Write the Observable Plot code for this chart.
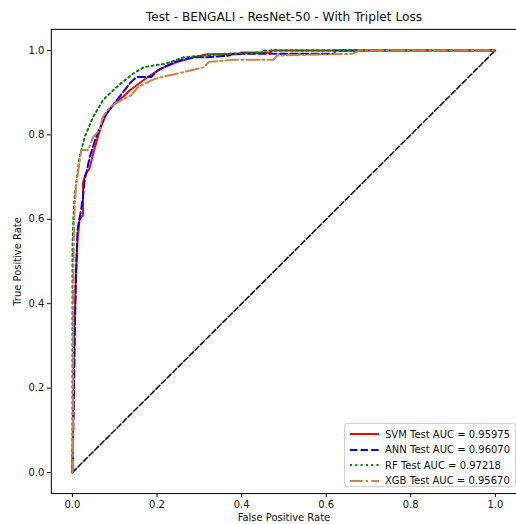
<!DOCTYPE html>
<html><head><meta charset="utf-8">
<script src="https://cdn.jsdelivr.net/npm/d3@7"></script>
<script src="https://cdn.jsdelivr.net/npm/@observablehq/plot@0.6"></script>
<style>
body{margin:0;overflow:hidden;background:#fff;font-family:"DejaVu Sans",sans-serif;}
#wrap{position:relative;width:516px;height:524px;overflow:hidden;background:#fff;}
#title{position:absolute;left:0;width:568px;top:10px;text-align:center;font-size:12.2px;color:#111;}
#legend{position:absolute;left:344px;top:423px;width:172px;height:64px;box-sizing:border-box;border:1px solid #d0d0d0;border-radius:3px;background:rgba(255,255,255,0.85);font-size:10px;color:#111;}
.row{position:absolute;left:4px;height:14px;display:flex;align-items:center;}
.row svg{width:31px;height:10px;margin-right:5px;}
</style></head>
<body><div id="wrap"><div id="chart"></div><div id="title"></div><div id="legend"></div></div>
<script>
const titleText = "Test - BENGALI - ResNet-50 - With Triplet Loss";
const xLabel = "False Positive Rate";
const yLabel = "True Positive Rate";
const tickValues = [0, 0.2, 0.4, 0.6, 0.8, 1.0];

const svmFpr = [0, 0.002, 0.005, 0.008, 0.012, 0.017, 0.025, 0.025, 0.03, 0.04, 0.05, 0.056, 0.06, 0.068, 0.08, 0.088, 0.1, 0.119, 0.135, 0.155, 0.178, 0.209, 0.249, 0.287, 0.319, 0.398, 0.398, 0.47, 0.47, 1];
const svmTpr = [0, 0.2, 0.35, 0.46, 0.55, 0.6, 0.61, 0.686, 0.705, 0.72, 0.76, 0.78, 0.795, 0.82, 0.85, 0.86, 0.875, 0.89, 0.905, 0.92, 0.937, 0.957, 0.973, 0.984, 0.991, 0.991, 0.995, 0.995, 1, 1];

const annFpr = [0, 0.003, 0.006, 0.008, 0.012, 0.02, 0.025, 0.029, 0.041, 0.056, 0.076, 0.092, 0.111, 0.135, 0.151, 0.186, 0.202, 0.241, 0.288, 0.32, 0.37, 0.38, 0.62, 0.62, 1];
const annTpr = [0, 0.15, 0.35, 0.46, 0.575, 0.62, 0.654, 0.693, 0.748, 0.795, 0.843, 0.866, 0.89, 0.921, 0.937, 0.937, 0.953, 0.973, 0.984, 0.984, 0.988, 0.992, 0.992, 1, 1];

const rfFpr = [0, 0, 0.002, 0.005, 0.009, 0.017, 0.029, 0.049, 0.072, 0.104, 0.143, 0.17, 0.217, 0.264, 0.358, 0.45, 0.45, 1];
const rfTpr = [0, 0.53, 0.6, 0.65, 0.686, 0.748, 0.795, 0.843, 0.882, 0.913, 0.945, 0.961, 0.968, 0.984, 0.992, 0.995, 1, 1];

const xgbFpr = [0, 0.001, 0.002, 0.004, 0.006, 0.009, 0.013, 0.021, 0.037, 0.049, 0.064, 0.072, 0.088, 0.115, 0.139, 0.155, 0.186, 0.202, 0.264, 0.31, 0.323, 0.38, 0.475, 0.484, 0.66, 0.68, 1];
const xgbTpr = [0, 0.05, 0.45, 0.6, 0.64, 0.686, 0.71, 0.764, 0.764, 0.795, 0.811, 0.843, 0.866, 0.882, 0.894, 0.913, 0.929, 0.935, 0.949, 0.96, 0.973, 0.978, 0.978, 0.988, 0.992, 1, 1];

const modelNames = ["SVM Test AUC = 0.95975", "ANN Test AUC = 0.96070", "RF Test AUC = 0.97218", "XGB Test AUC = 0.95670"];
const modelColors = ["#ff0000", "#0000ff", "#008000", "#cd853f"];
const modelDashes = ["none", "7.4,3.2", "2,3.3", "12.8,3.2,2,3.2"];
const diagFpr = [0, 1];
const diagTpr = [0, 1];

const series = [[svmFpr, svmTpr], [annFpr, annTpr], [rfFpr, rfTpr], [xgbFpr, xgbTpr]];
const toRows = (xs, ys) => xs.map((x, i) => ({fpr: x, tpr: ys[i]}));

const lineMarks = series.map((s, i) => Plot.line(toRows(s[0], s[1]), {
  x: "fpr", y: "tpr", stroke: modelColors[i], strokeWidth: 2,
  strokeDasharray: modelDashes[i] === "none" ? undefined : modelDashes[i]
}));

const chart = Plot.plot({
  width: 518, height: 524,
  marginLeft: 51, marginRight: 0, marginTop: 29, marginBottom: 29,
  x: {domain: [-0.05, 1.05]},
  y: {domain: [-0.05, 1.05]},
  style: {fontFamily: "DejaVu Sans, sans-serif", fontSize: "10px", background: "white", color: "#111"},
  marks: [
    Plot.axisX({ticks: tickValues, tickFormat: d3.format(".1f"), tickSize: 4, tickPadding: 3, label: xLabel, labelAnchor: "center", labelArrow: "none", labelOffset: 27.5}),
    Plot.axisY({ticks: tickValues, tickFormat: d3.format(".1f"), tickSize: 4, tickPadding: 3, label: yLabel, labelAnchor: "center", labelArrow: "none", labelOffset: 38}),
    Plot.line(toRows(diagFpr, diagTpr), {x: "fpr", y: "tpr", stroke: "black", strokeWidth: 1.5, strokeDasharray: "5.5,2.4"}),
    ...lineMarks,
    Plot.frame({stroke: "black", strokeWidth: 1})
  ]
});
document.getElementById("chart").appendChild(chart);
document.getElementById("title").textContent = titleText;

const legend = document.getElementById("legend");
modelNames.forEach((name, i) => {
  const row = document.createElement("div");
  row.className = "row";
  row.style.top = (3 + i * 15.5) + "px";
  const dash = modelDashes[i] === "none" ? "" : `stroke-dasharray="${modelDashes[i]}"`;
  row.innerHTML = `<svg viewBox="0 0 31 10"><line x1="1" y1="5" x2="30" y2="5" stroke="${modelColors[i]}" stroke-width="2" ${dash}/></svg><span>${name}</span>`;
  legend.appendChild(row);
});
</script></body></html>
